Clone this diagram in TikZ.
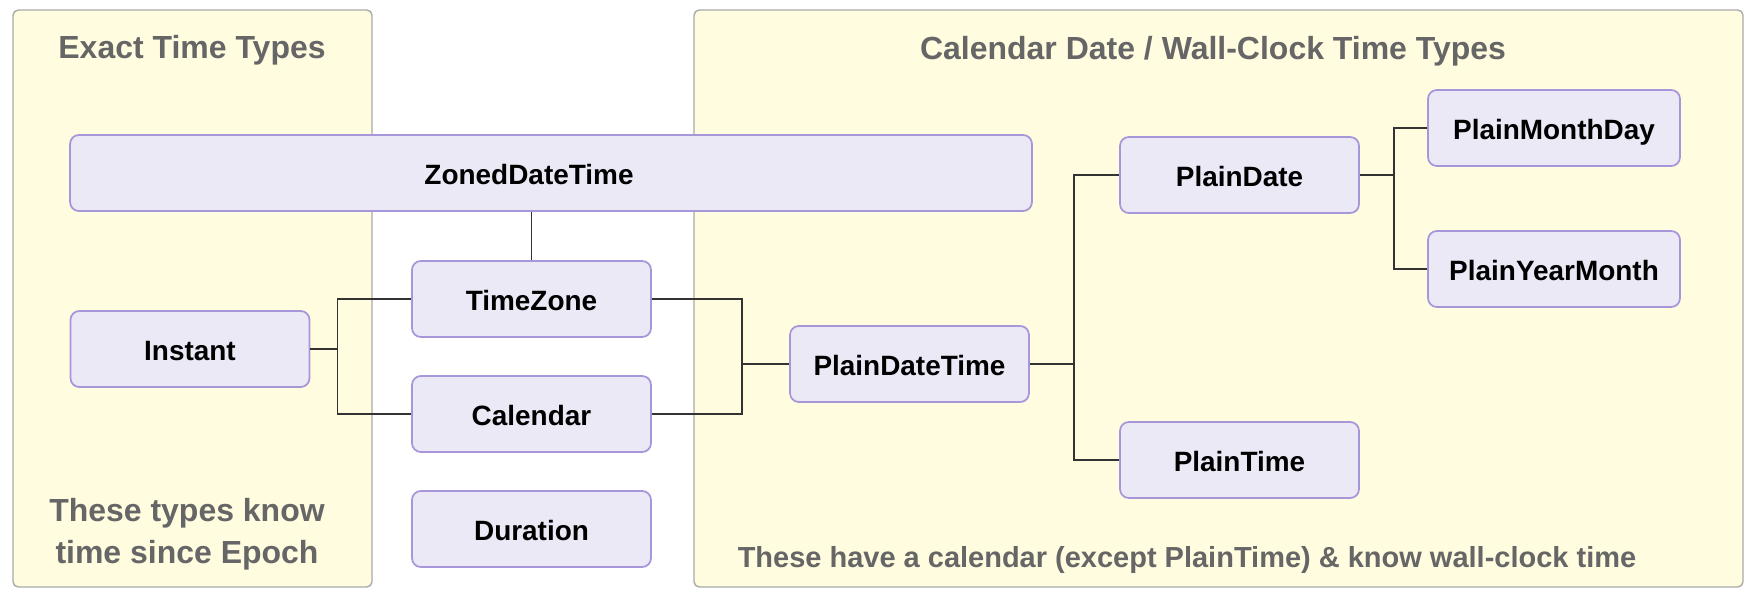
\documentclass[tikz,border=0pt]{standalone}
\usepackage{fontspec}
\setmainfont{Liberation Sans}
\usetikzlibrary{positioning,calc}

\definecolor{panelfill}{HTML}{FFFCE0}
\definecolor{panelline}{HTML}{AAAAAA}
\definecolor{nodefill}{HTML}{ECE9F6}
\definecolor{nodeline}{HTML}{A896DA}
\definecolor{linkgray}{HTML}{333333}
\definecolor{titlegray}{HTML}{666666}

\begin{document}
\begin{tikzpicture}[
  x=0.02cm, y=-0.02cm,
  font=\bfseries\fontsize{15.9}{19}\selectfont,
  panel/.style={draw=panelline, fill=panelfill, rounded corners=3pt, line width=0.8pt},
  title/.style={text=titlegray, font=\bfseries\fontsize{18.2}{24}\selectfont, inner sep=0pt},
  box/.style={draw=nodeline, fill=nodefill, rounded corners=5pt, line width=1pt,
    minimum width=4.78cm, minimum height=1.52cm, inner sep=0pt,
    text height=0.46cm, text depth=0pt},
  link/.style={draw=linkgray, line width=0.9pt}
]
\useasboundingbox (0,0) rectangle (1746,594);
% groups
\draw[panel] (13,10) rectangle (372,587);
\draw[panel] (694,10) rectangle (1743,587);
\node[title, anchor=base] (exact) at (192,59) {Exact Time Types};
\node[title, anchor=base] (wall) at (1213,60) {Calendar Date / Wall-Clock Time Types};
\node[title, align=center] (epoch) at (187,534) {These types know\\time since Epoch};
\node[title, anchor=base, font=\bfseries\fontsize{16.5}{20}\selectfont] (civil) at (1187,567)
  {These have a calendar (except PlainTime) \& know wall-clock time};
% types
\node[box, minimum width=19.24cm] (zdt) at (551,173) {\hspace*{-0.88cm}ZonedDateTime};
\node[box] (tz) at (531.5,299) {TimeZone};
\node[box] (cal) at (531.5,414) {Calendar};
\node[box] (dur) at (531.5,529) {Duration};
\node[box] (inst) at (190,349) {Instant};
\node[box] (pdt) at (909.5,364) {PlainDateTime};
\node[box] (pd) at (1239.5,175) {PlainDate};
\node[box] (pt) at (1239.5,460) {PlainTime};
\node[box, minimum width=5.04cm] (pmd) at (1554,128) {PlainMonthDay};
\node[box, minimum width=5.04cm] (pym) at (1554,269) {PlainYearMonth};
% links
\draw[link] (tz.north) -- (tz.north |- zdt.south);
\draw[link] (inst.east) -- ++(27,0) |- (tz.west);
\draw[link] (inst.east) -- ++(27,0) |- (cal.west);
\draw[link] (tz.east) -- ++(90,0) |- (pdt.west);
\draw[link] (cal.east) -- ++(90,0) |- (pdt.west);
\draw[link] (pdt.east) -- ++(44,0) |- (pd.west);
\draw[link] (pdt.east) -- ++(44,0) |- (pt.west);
\draw[link] (pd.east) -- ++(34,0) |- (pmd.west);
\draw[link] (pd.east) -- ++(34,0) |- (pym.west);
\end{tikzpicture}
\end{document}
